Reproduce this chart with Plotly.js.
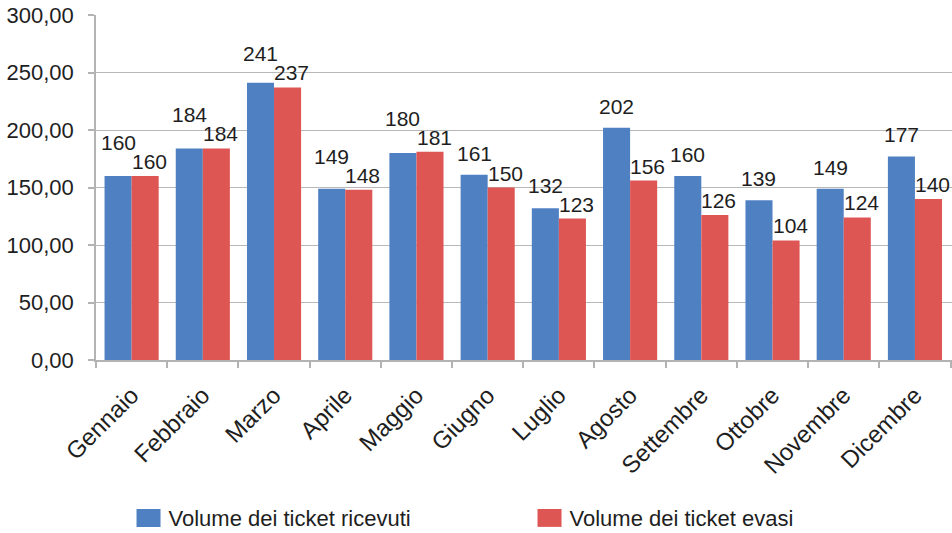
<!DOCTYPE html>
<html>
<head>
<meta charset="utf-8">
<script src="https://cdn.plot.ly/plotly-3.0.1.min.js"></script>
<style>
  html, body { margin: 0; padding: 0; background: #fff; }
  #chart { width: 952px; height: 533px; }
</style>
</head>
<body>
<div id="chart"></div>
<script>
const months = ["Gennaio", "Febbraio", "Marzo", "Aprile", "Maggio", "Giugno", "Luglio", "Agosto", "Settembre", "Ottobre", "Novembre", "Dicembre"];
const ricevuti = [160, 184, 241, 149, 180, 161, 132, 202, 160, 139, 149, 177];
const evasi = [160, 184, 237, 148, 181, 150, 123, 156, 126, 104, 124, 140];
const seriesNames = ["Volume dei ticket ricevuti", "Volume dei ticket evasi"];
const yTicks = [0, 50, 100, 150, 200, 250, 300];

const fontFamily = "Liberation Sans, Arial, sans-serif";
const textColor = "#1e1e1e";
const blue = "#4F81C2";
const red = "#DE5653";

const W = 952, H = 533;
const margin = { l: 96, r: 0, t: 15, b: 173 };
const bargap = 0.24;
const yMax = 300;
const pxPerUnit = (H - margin.t - margin.b) / yMax;
const catWidth = (W - margin.l - margin.r) / months.length;
const halfBar = catWidth * (1 - bargap) / 4;

function barTrace(name, values, color) {
  return {
    type: "bar",
    name: name,
    x: months,
    y: values,
    marker: { color: color, line: { width: 0 } },
    hoverinfo: "x+y"
  };
}

const data = [
  barTrace(seriesNames[0], ricevuti, blue),
  barTrace(seriesNames[1], evasi, red)
];

// data labels, placed through the axes; the blue label is lifted above the red one when they would collide
const annotations = [];
months.forEach((m, i) => {
  const redGap = 1;
  const blueLift = Math.max(8, (evasi[i] - ricevuti[i]) * pxPerUnit + 20);
  annotations.push({
    x: m, y: evasi[i], xref: "x", yref: "y",
    text: String(evasi[i]), showarrow: false,
    xanchor: "center", yanchor: "bottom",
    xshift: halfBar + 4, yshift: redGap,
    font: { family: fontFamily, size: 21, color: textColor }
  });
  annotations.push({
    x: m, y: ricevuti[i], xref: "x", yref: "y",
    text: String(ricevuti[i]), showarrow: false,
    xanchor: "center", yanchor: "bottom",
    xshift: -halfBar, yshift: blueLift,
    font: { family: fontFamily, size: 21, color: textColor }
  });
});

const layout = {
  width: W,
  height: H,
  margin: margin,
  paper_bgcolor: "#ffffff",
  plot_bgcolor: "#ffffff",
  separators: ",.",
  barmode: "group",
  bargap: bargap,
  bargroupgap: 0,
  font: { family: fontFamily, color: textColor },
  showlegend: true,
  annotations: annotations,
  legend: {
    orientation: "h",
    xref: "container",
    yref: "container",
    x: 0.135,
    xanchor: "left",
    y: 0.028,
    yanchor: "middle",
    entrywidth: 356,
    entrywidthmode: "pixels",
    font: { family: fontFamily, size: 22, color: textColor },
    traceorder: "normal"
  },
  xaxis: {
    type: "category",
    tickangle: -45,
    tickfont: { family: fontFamily, size: 24, color: textColor },
    ticklabelstandoff: 10,
    showline: true,
    linecolor: "#b3b3b3",
    linewidth: 1.5,
    ticks: "outside",
    tickson: "boundaries",
    ticklen: 6,
    tickcolor: "#b3b3b3",
    tickwidth: 1.5,
    showgrid: false,
    zeroline: false
  },
  yaxis: {
    range: [0, yMax],
    tickvals: yTicks,
    tickformat: ".2f",
    tickfont: { family: fontFamily, size: 22, color: textColor },
    ticklabelstandoff: 10,
    showgrid: true,
    gridcolor: "#b8b8b8",
    gridwidth: 1.3,
    showline: true,
    linecolor: "#b3b3b3",
    linewidth: 1.5,
    ticks: "outside",
    ticklen: 6,
    tickcolor: "#b3b3b3",
    tickwidth: 1.5,
    zeroline: false
  }
};

Plotly.newPlot("chart", data, layout, { displayModeBar: false, responsive: false }).then(gd => {
  // enlarge legend swatches (24x18) to match the reference, keeping Plotly's own placement transform
  gd.querySelectorAll(".legend .legendpoints path").forEach(p => {
    p.setAttribute("d", "M12,9H-12V-9H12Z");
  });
});
</script>
</body>
</html>
